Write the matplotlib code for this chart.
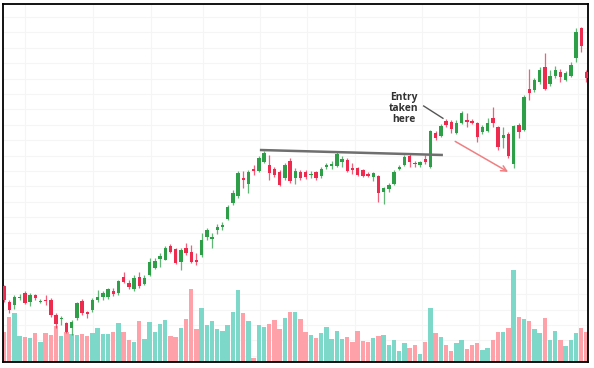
import matplotlib

matplotlib.use("Agg")
import matplotlib.pyplot as plt
import numpy as np

# candle data (price units), one entry per session
opens = [114, 98, 95, 102, 107, 98, 105, 98, 100, 100, 85, 81, 77, 72, 82, 99, 88, 90, 100, 103,
         103, 109, 107, 123, 117, 111, 123, 116, 125, 132, 141, 140, 154, 151, 138, 152, 148, 140, 145, 163,
         161, 170, 173, 181, 197, 204, 222, 216, 231, 229, 238, 235, 231, 228, 222, 239, 222, 228, 228, 225,
         228, 224, 233.5, 234.5, 234, 238, 240, 232, 232, 230, 226, 223, 224, 208, 211, 216, 231, 235, 244, 237,
         235, 241, 233, 267, 264, 279, 278, 267, 277, 280, 279, 277, 268, 269, 282, 273, 262, 266, 236, 275,
         270, 311, 310, 318, 333, 316, 324, 328, 320, 324, 342, 372, 328]
highs = [115, 100, 105, 106, 109, 107, 106, 101, 105, 102, 87, 84, 78, 80, 98, 101, 89, 102, 110, 109,
         112, 112, 120, 128, 120, 125, 128, 125, 142, 142, 147, 154, 156, 152, 152, 157, 155, 147, 167, 172,
         167, 176, 178, 195, 210, 229, 229, 230, 235, 244, 249, 245, 233, 230, 237, 242, 232, 230, 230, 229,
         229, 233, 237, 239, 248, 244, 242, 237, 233, 231, 228, 228, 225, 213, 217, 230, 235, 245, 246, 239,
         239, 245, 270, 269, 276, 281, 280, 280, 289, 287, 281, 278, 275, 282, 293, 274, 273, 268, 275, 277,
         305, 331, 322, 333, 347, 330, 334, 331, 329, 338, 372, 373, 330]
lows = [98, 87, 91, 100, 96, 94, 100, 97, 95, 83, 72, 75, 67, 65, 80, 85, 82, 88, 98, 100,
        101, 104, 105, 117, 111, 109, 112, 115, 124, 131, 133, 140, 147, 136, 130, 145, 137, 135, 143, 160,
        152, 166, 170, 180, 195, 202, 212, 207, 225, 228, 237, 220, 223, 214, 220, 217, 216, 220, 221, 222,
        220, 222, 231, 231, 233, 233, 228, 226, 224, 223, 223, 219, 198, 196, 208, 215, 230, 234, 233, 233,
        233, 236, 232, 260, 263, 273, 267, 266, 276, 273, 276, 258, 266, 268, 273, 250, 252, 242, 232, 262,
        269, 300, 308, 316, 310, 314, 322, 318, 319, 323, 338, 348, 318]
closes = [100, 90, 103, 103.5, 97, 105, 102, 99, 99, 85, 76, 82, 68, 78, 97, 87, 86, 100, 103, 107,
          111, 106, 119, 118, 113, 122, 114, 122, 138, 139, 144, 152, 148, 137, 150, 147, 138, 138, 160, 170,
          163, 173, 175, 193, 207, 227, 220, 228, 229, 242, 247, 227, 225, 215, 235, 219, 229, 222, 223, 226.5,
          222, 231, 235, 236, 246, 241, 229, 230, 225, 224, 224, 227, 207, 212, 215, 228, 233, 243, 238, 236,
          238, 238, 269, 262, 274, 275, 271, 277, 287, 278, 277, 263, 273, 277, 277, 253, 265, 244, 274, 268,
          303, 307, 320, 330, 311, 324, 330, 323, 327, 335, 368, 354, 322]
volumes = [30, 45, 49, 26, 25, 24, 29, 20, 29, 27, 36, 26, 30, 28, 27, 28, 26, 29, 34, 28,
           28, 30, 39, 30, 22, 20, 41, 23, 40, 30, 38, 42, 26, 25, 34, 43, 73, 33, 54, 37,
           41, 33, 31, 37, 50, 72, 49, 41, 4, 37, 35, 38, 42, 33, 44, 50, 50, 43, 30, 27,
           24, 29, 35, 23, 31, 23, 25, 20, 31, 21, 20, 24, 26, 27, 17, 22, 11, 19, 14, 17,
           8, 20, 54, 29, 25, 17, 11, 19, 22, 13, 17, 19, 12, 14, 22, 30, 30, 34, 92, 45,
           43, 41, 33, 29, 44, 22, 31, 22, 16, 22, 29, 34, 30]

# session index of the faint date grid lines
date_grid = [4, 17.1, 28.3, 38.3, 49.2, 58.3, 67.5, 80.4, 91.3, 100.4, 110.4]

UP = "#2e9e48"
DOWN = "#ee2a4f"
VOL_UP = "#7dd8c9"
VOL_DOWN = "#ffa1a9"

o = np.asarray(opens, dtype=float)
h = np.asarray(highs, dtype=float)
lo = np.asarray(lows, dtype=float)
c = np.asarray(closes, dtype=float)
x = np.arange(len(o))
up = c >= o

fig = plt.figure(figsize=(5.94, 3.68), dpi=100)
ax = fig.add_axes([3 / 594, 6 / 368, 585 / 594, 358 / 368])

# volume on the base axes
ax.bar(x, volumes, width=0.86, color=[VOL_UP if u else VOL_DOWN for u in up], zorder=2)
ax.set_ylim(0, 358)
ax.set_xlim(-0.2, 112.3)
ax.set_xticks(date_grid)
ax.set_yticks(np.arange(6.3, 358, 15.4))
ax.grid(True, color="#f5f5f5", linewidth=0.8, zorder=0)
ax.tick_params(length=0, labelbottom=False, labelleft=False)
for s in ax.spines.values():
    s.set_color("black")
    s.set_linewidth(1.3)

# candles on a twin axes in price units
ax2 = ax.twinx()
ax2.set_ylim(38, 396)
ax2.set_yticks([])
ax2.tick_params(length=0, labelright=False)
for s in ax2.spines.values():
    s.set_visible(False)
colors = [UP if u else DOWN for u in up]
ax2.vlines(x, lo, h, color=colors, linewidth=0.9, alpha=0.75, zorder=3)
body_lo = np.minimum(o, c)
body_h = np.maximum(np.abs(c - o), 1.0)
ax2.bar(x, body_h, bottom=body_lo, width=0.66, color=colors, zorder=4)

# resistance line, annotation and arrow
ax2.plot([49.2, 84.4], [250, 245], color="#6f6f6f", linewidth=1.8, zorder=5,
         solid_capstyle="butt")
ax2.text(76.9, 291.5, "Entry\ntaken\nhere", ha="center", va="center",
         fontsize=7.4, fontweight="bold", family=["Open Sans", "DejaVu Sans"],
         color="#333333", linespacing=1.02, zorder=6)
ax2.plot([80.7, 84.4], [294, 281.7], color="#555555", linewidth=1.0, zorder=6)
ax2.annotate("", xy=(97.4, 226.7), xytext=(86.3, 260),
             arrowprops={"arrowstyle": "->", "color": "#f07f82", "linewidth": 1.1,
                         "mutation_scale": 10}, zorder=6)

fig.savefig("out.png", dpi=100, facecolor="white")
